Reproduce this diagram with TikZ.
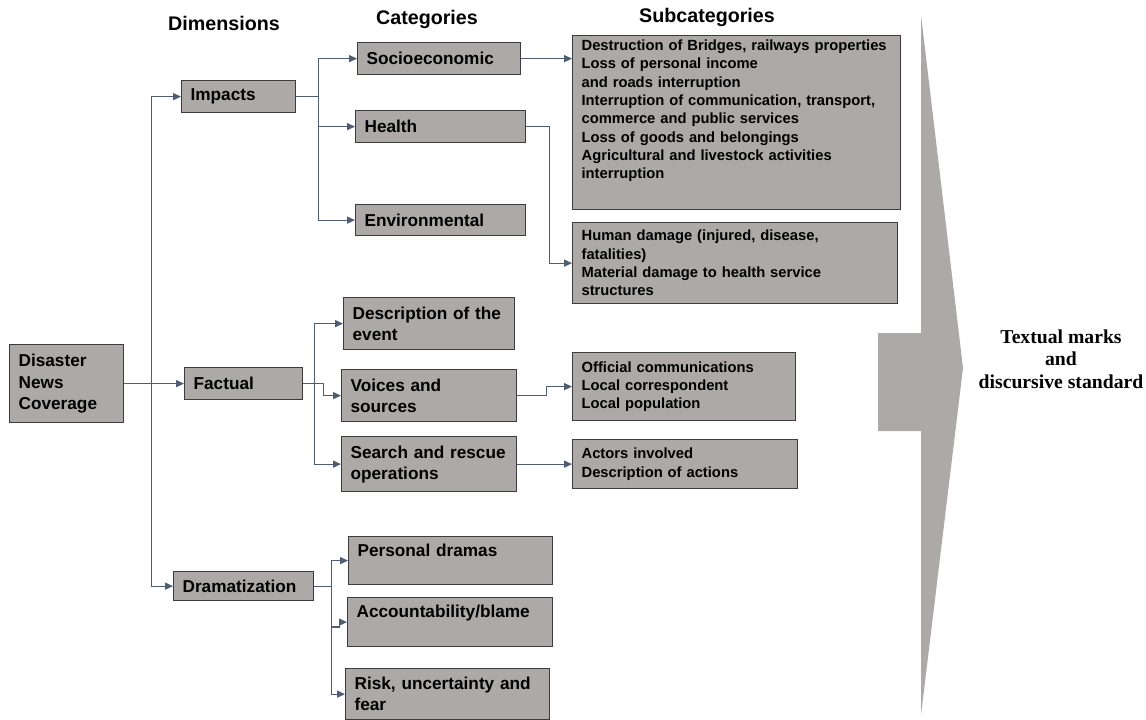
\documentclass[tikz,border=0pt]{standalone}
\usepackage{fontspec}
\setmainfont{Liberation Sans}
\newfontfamily\serifbold{Liberation Serif}
\usetikzlibrary{arrows.meta}
\newcommand{\nohyph}{\hyphenpenalty=10000\exhyphenpenalty=10000\relax}

\begin{document}
\begin{tikzpicture}[x=0.02cm,y=-0.02cm,
		box/.style 2 args={draw=boxline, fill=boxgray, line width=0.7pt, anchor=north west,
			minimum width=#1*0.02cm, minimum height=#2*0.02cm, text width=#1*0.02cm-0.36cm,
			inner xsep=0.18cm, inner ysep=1pt, align=left,
			font=\fontsize{9.8}{12}\selectfont\bfseries\nohyph},
		subbox/.style 2 args={box={#1}{#2}, font=\fontsize{8.4}{10.4}\selectfont\bfseries\nohyph},
		head/.style={font=\bfseries\fontsize{11.2}{13}\selectfont},
		wire/.style={draw=linkcol, line width=0.6pt},
		link/.style={wire, -{Triangle[length=4.5pt,width=4pt]}}]
		%%% Colores
		\definecolor{boxgray}{RGB}{173,169,168}
		\definecolor{boxline}{RGB}{60,60,60}
		\definecolor{linkcol}{RGB}{78,92,116}
		\useasboundingbox (0,0) rectangle (1146,720);

		%%% Cabeceras de columnas
		\node[head] (hdim) at (224,23) {Dimensions};
		\node[head] (hcat) at (427,19) {Categories};
		\node[head] (hsub) at (707,17) {Subcategories};

		%%% Raiz y dimensiones
		\node[box={114}{78}] (dnc) at (9,344) {Disaster\\News\\Coverage};
		\node[box={114}{32}] (impacts) at (181,80) {Impacts};
		\node[box={118}{32}] (factual) at (184,367) {Factual};
		\node[box={140}{29}] (drama) at (173,571) {Dramatization};

		%%% Categorias
		\node[box={163}{32}] (socio) at (357,42) {Socioeconomic};
		\node[box={170}{32}] (health) at (355,110) {Health};
		\node[box={170}{31}] (env) at (355,204) {Environmental};
		\node[box={171}{52}] (desc) at (343,297) {Description of the\\event};
		\node[box={175}{52}] (voices) at (341,369) {Voices and\\sources};
		\node[box={175}{55}] (search) at (341,436) {Search and rescue\\operations};
		\node[box={204}{48}] (personal) at (348,536) {Personal dramas\\\mbox{}};
		\node[box={205}{49}] (account) at (347,597) {Accountability/blame\\\mbox{}};
		\node[box={204}{51}] (risk) at (345,668) {Risk, uncertainty and\\fear};

		%%% Subcategorias
		\node[subbox={328}{174}] (subsocio) at (572,35) {Destruction of Bridges, railways properties\\
			Loss of personal income\\and roads interruption\\
			Interruption of communication, transport,\\commerce and public services\\
			Loss of goods and belongings\\Agricultural and livestock activities\\interruption\\[4.8pt]\mbox{}};
		\node[subbox={325}{81}] (subhealth) at (572,222) {Human damage (injured, disease,\\fatalities)\\
			Material damage to health service\\structures};
		\node[subbox={223}{68}] (subvoice) at (572,352) {Official communications\\Local correspondent\\Local population};
		\node[subbox={225}{49}] (subsearch) at (572,439) {Actors involved\\Description of actions};

		%%% Flecha grande y texto final
		\fill[boxgray] (878,333) -- (921,333) -- (921,15) -- (963,368) -- (921,715) -- (921,431) -- (878,431) -- cycle;
		\node[font=\serifbold\bfseries\fontsize{11.2}{12.8}\selectfont, align=center] (marks) at (1061,359)
			{Textual marks\\and\\discursive standard};

		%%% Conectores
		\draw[link] (dnc.east) -- (dnc.east -| factual.west);
		\path (dnc.east) -- ++(27,0) coordinate (dimfork);
		\draw[link] (dimfork) |- (impacts.west);
		\draw[link] (dimfork) |- (drama.west);

		\draw[wire] (impacts.east) -- ++(22,0) coordinate (impfork);
		\draw[link] (impfork) |- (socio.west);
		\draw[link] (impfork) |- (health.west);
		\draw[link] (impfork) |- (env.west);

		\draw[link] (factual.east) -- ++(20,0) |- (voices.west);
		\path (factual.east) -- ++(11,0) coordinate (factfork);
		\draw[link] (factfork) |- (desc.west);
		\draw[link] (factfork) |- (search.west);

		\draw[wire] (drama.east) -- ++(17,0) coordinate (dramfork);
		\draw[link] (dramfork) |- (personal.west);
		\draw[link] (dramfork) |- (risk.west);
		\draw[link] (dramfork |- 0,627) -- ++(8,0) |- (account.west);

		% hacia las subcategorias
		\draw[link] (socio.east) -- (socio.east -| subsocio.west);
		\draw[link] (health.east) -- ++(23,0) |- (subhealth.west);
		\draw[link] (voices.east) -- ++(29,0) |- (subvoice.west);
		\draw[link] (search.east) -- (search.east -| subsearch.west);
	\end{tikzpicture}
\end{document}
